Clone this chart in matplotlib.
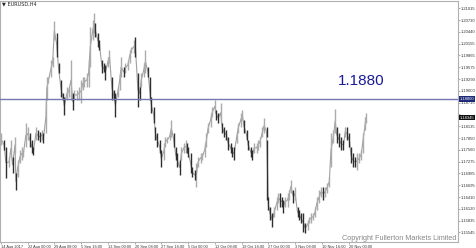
import matplotlib.pyplot as plt
import numpy as np

# H4 bar index (0 = 14 Aug 2017 00:00), with estimated high/low of the bars
bar = [0, 4, 6, 10, 12, 14, 17, 18, 20, 23, 25, 27, 30, 32, 35, 37, 39, 42, 44, 47,
       49, 51, 54, 55, 57, 60, 62, 64, 67, 69, 72, 74, 76, 79, 81, 84, 86, 88, 91, 93,
       96, 98, 100, 103, 105, 107, 110, 112, 113, 116, 118, 121, 123, 125, 128, 130, 133, 135, 137, 140,
       142, 144, 147, 149, 152, 154, 156, 159, 161, 164, 166, 168, 171, 173, 176, 178, 180, 183, 185, 187,
       190, 192, 195, 197, 199, 202, 204, 207, 209, 211, 214, 216, 219, 221, 223, 224, 227, 229, 232, 234,
       236, 239, 241, 244, 246, 248, 251, 253, 256, 258, 260, 263, 265, 267, 270, 272, 275, 277, 279, 282,
       284, 287, 289, 291, 294, 296, 299, 301, 303, 306, 308, 310, 313, 315, 318, 319, 320, 322, 325, 327,
       330, 332, 334, 337, 338, 340, 343, 345, 347, 350, 352, 355, 357, 359, 362, 364, 367, 369, 371, 374,
       376, 378, 381, 383, 386, 388, 390, 393, 395, 398, 400, 402, 405, 407, 410, 412, 414, 417, 419, 421,
       424, 426, 429, 431, 433, 436, 437]
high = [1.1797, 1.1780, 1.1763, 1.1739, 1.1780, 1.1739, 1.1788, 1.1700, 1.1731, 1.1756,
        1.1763, 1.1756, 1.1822, 1.1812, 1.1797, 1.1780, 1.1763, 1.1812, 1.1805, 1.1800,
        1.1805, 1.1797, 1.1878, 1.1934, 1.1934, 1.1975, 1.1983, 1.2071, 1.2041, 1.1968,
        1.1927, 1.1895, 1.1885, 1.1910, 1.1910, 1.1975, 1.1895, 1.1902, 1.1902, 1.1910,
        1.1927, 1.1934, 1.1934, 1.1944, 1.1975, 1.2056, 1.2073, 1.2090, 1.2066, 1.2041,
        1.2024, 1.1975, 1.1968, 1.1963, 1.1983, 1.2000, 1.1934, 1.1902, 1.1895, 1.1910,
        1.1944, 1.1983, 1.1958, 1.1968, 1.1975, 1.2000, 1.2007, 1.2024, 1.2032, 1.1944,
        1.1910, 1.1944, 1.1968, 1.2000, 1.1958, 1.1934, 1.1885, 1.1861, 1.1812, 1.1797,
        1.1780, 1.1756, 1.1773, 1.1788, 1.1788, 1.1797, 1.1829, 1.1797, 1.1763, 1.1749,
        1.1731, 1.1763, 1.1773, 1.1780, 1.1773, 1.1763, 1.1749, 1.1714, 1.1707, 1.1724,
        1.1739, 1.1749, 1.1749, 1.1773, 1.1797, 1.1822, 1.1846, 1.1861, 1.1878, 1.1853,
        1.1846, 1.1871, 1.1822, 1.1812, 1.1805, 1.1788, 1.1773, 1.1763, 1.1763, 1.1797,
        1.1822, 1.1846, 1.1853, 1.1829, 1.1805, 1.1780, 1.1763, 1.1756, 1.1773, 1.1773,
        1.1780, 1.1788, 1.1812, 1.1834, 1.1812, 1.1780, 1.1641, 1.1617, 1.1602, 1.1617,
        1.1641, 1.1651, 1.1651, 1.1641, 1.1634, 1.1641, 1.1651, 1.1658, 1.1683, 1.1658,
        1.1666, 1.1617, 1.1609, 1.1602, 1.1602, 1.1578, 1.1585, 1.1592, 1.1602, 1.1602,
        1.1617, 1.1641, 1.1658, 1.1666, 1.1666, 1.1666, 1.1675, 1.1690, 1.1797, 1.1805,
        1.1856, 1.1812, 1.1797, 1.1788, 1.1780, 1.1812, 1.1812, 1.1797, 1.1763, 1.1749,
        1.1739, 1.1749, 1.1749, 1.1756, 1.1797, 1.1836, 1.1846]
low = [1.1768, 1.1756, 1.1687, 1.1714, 1.1739, 1.1700, 1.1749, 1.1658, 1.1690, 1.1724,
       1.1731, 1.1739, 1.1763, 1.1780, 1.1763, 1.1749, 1.1744, 1.1780, 1.1780, 1.1775,
       1.1780, 1.1773, 1.1797, 1.1878, 1.1919, 1.1934, 1.1958, 1.2024, 1.1983, 1.1944,
       1.1885, 1.1878, 1.1841, 1.1878, 1.1885, 1.1878, 1.1853, 1.1878, 1.1878, 1.1878,
       1.1871, 1.1902, 1.1910, 1.1910, 1.1910, 1.1958, 1.2024, 1.2041, 1.2032, 1.2007,
       1.2000, 1.1944, 1.1946, 1.1927, 1.1958, 1.1968, 1.1878, 1.1878, 1.1836, 1.1885,
       1.1902, 1.1934, 1.1934, 1.1944, 1.1951, 1.1968, 1.1992, 1.1992, 1.1983, 1.1861,
       1.1878, 1.1910, 1.1934, 1.1944, 1.1934, 1.1878, 1.1846, 1.1822, 1.1780, 1.1763,
       1.1749, 1.1714, 1.1731, 1.1763, 1.1773, 1.1780, 1.1788, 1.1763, 1.1731, 1.1714,
       1.1695, 1.1731, 1.1749, 1.1749, 1.1749, 1.1739, 1.1700, 1.1690, 1.1683, 1.1666,
       1.1714, 1.1724, 1.1731, 1.1739, 1.1763, 1.1797, 1.1812, 1.1836, 1.1846, 1.1829,
       1.1822, 1.1822, 1.1797, 1.1788, 1.1780, 1.1756, 1.1749, 1.1739, 1.1731, 1.1773,
       1.1797, 1.1812, 1.1829, 1.1797, 1.1780, 1.1756, 1.1739, 1.1731, 1.1749, 1.1749,
       1.1756, 1.1763, 1.1788, 1.1797, 1.1788, 1.1634, 1.1609, 1.1585, 1.1568, 1.1592,
       1.1609, 1.1626, 1.1617, 1.1617, 1.1602, 1.1617, 1.1617, 1.1634, 1.1651, 1.1626,
       1.1634, 1.1592, 1.1585, 1.1578, 1.1556, 1.1553, 1.1561, 1.1578, 1.1578, 1.1585,
       1.1592, 1.1609, 1.1626, 1.1641, 1.1634, 1.1641, 1.1651, 1.1666, 1.1714, 1.1773,
       1.1797, 1.1773, 1.1763, 1.1756, 1.1756, 1.1788, 1.1780, 1.1763, 1.1724, 1.1714,
       1.1714, 1.1707, 1.1724, 1.1731, 1.1749, 1.1805, 1.1822]

date_ticks = [0, 32, 64, 96, 128, 160, 192, 224, 256, 288, 320, 352, 384, 416]
date_labels = ["14 Aug 2017", "22 Aug 00:00", "29 Aug 08:00", "5 Sep 16:00", "13 Sep 00:00",
               "20 Sep 08:00", "27 Sep 16:00", "5 Oct 00:00", "12 Oct 08:00", "19 Oct 16:00",
               "27 Oct 00:00", "3 Nov 08:00", "10 Nov 16:00", "20 Nov 00:00"]
price_ticks = [1.21015, 1.20730, 1.20440, 1.20155, 1.19865, 1.19575, 1.19290, 1.19000,
               1.18715, 1.18425, 1.18135, 1.17850, 1.17560, 1.17275, 1.16985, 1.16695,
               1.16410, 1.16120, 1.15835, 1.15545]
level = 1.1880
last_price = 1.18345

plt.rcParams["font.family"] = ["Liberation Sans", "DejaVu Sans"]

fig = plt.figure(figsize=(4.76, 2.48), dpi=100)
ax = fig.add_axes([0.0, 6 / 248, 458 / 476, 241 / 248])

bar = np.array(bar)
high = np.array(high)
low = np.array(low)
mid = (high + low) / 2

ax.plot(bar, mid, color="#a0a0a0", lw=0.8, zorder=2)
falling = np.r_[False, np.diff(mid) < 0]
ax.vlines(bar[~falling], low[~falling], high[~falling], color="#ababab", lw=1.0, zorder=3)
ax.vlines(bar[falling], low[falling], high[falling], color="#2e2e2e", lw=1.0, zorder=4)

ax.axhline(level, color="#7478b0", lw=1.0, zorder=5)
ax.text(431, 1.1925, f"{level:.4f}", color="#1a1a9a", fontsize=11, ha="center", va="center")

ax.set_xlim(-1, 547)
ax.set_ylim(1.15313, 1.21194)

ax.yaxis.tick_right()
ax.set_yticks(price_ticks)
# the label hidden behind the last-price box is left blank
ylabels = ["" if abs(p - last_price) < 0.001 else f"{p:.5f}" for p in price_ticks]
ax.set_yticklabels(ylabels, fontsize=3.0, color="#333333")
ax.set_xticks(date_ticks)
ax.set_xticklabels(date_labels, fontsize=2.8, color="#333333", ha="left")
ax.tick_params(axis="both", length=1.5, width=0.5, color="#888888", pad=0.6)

for s in ax.spines.values():
    s.set_color("#b0b0b0")
    s.set_linewidth(0.8)

# current-level and last-price boxes on the price scale
ax.text(1.003, level, "1.18800", transform=ax.get_yaxis_transform(), fontsize=3.0,
        color="white", va="center", ha="left", zorder=10,
        bbox=dict(boxstyle="square,pad=0.15", fc="#1c2878", ec="none"))
ax.text(1.003, last_price, f"{last_price:.5f}", transform=ax.get_yaxis_transform(), fontsize=3.0,
        color="white", va="center", ha="left", zorder=10,
        bbox=dict(boxstyle="square,pad=0.15", fc="#101010", ec="none"))

fig.text(2 / 476, 1 - 4 / 248, "\u25bc EURUSD,H4", fontsize=3.6, color="#222222",
         va="center", ha="left", family=["DejaVu Sans"])
fig.text(456 / 476, 9 / 248, "Copyright Fullerton Markets Limited", fontsize=5.2,
         color="#888888", ha="right", va="center")

fig.savefig("out.png", dpi=100)
